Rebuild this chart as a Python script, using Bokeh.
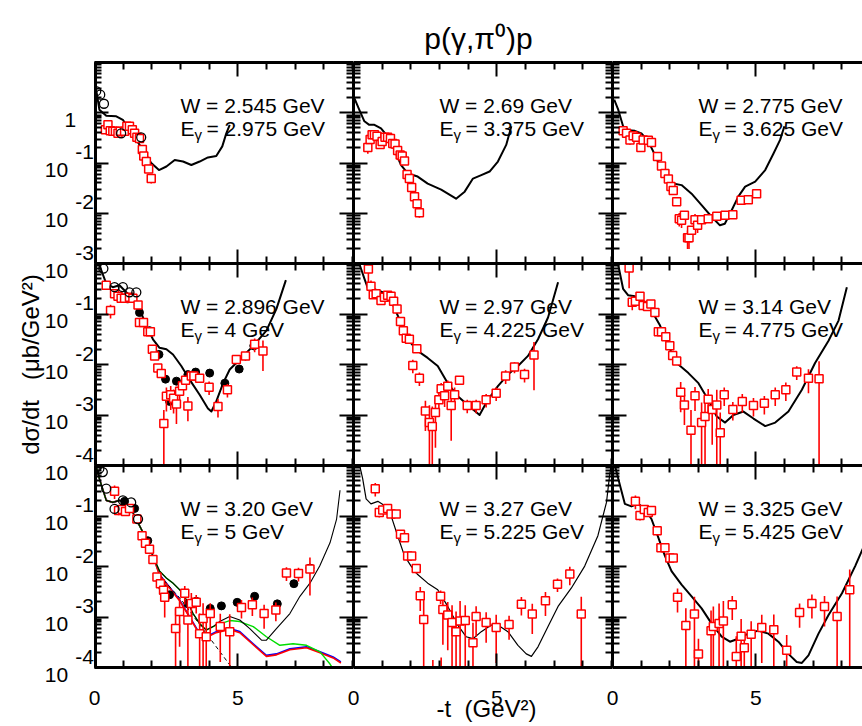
import math
import numpy as np
from bokeh.plotting import figure
from bokeh.layouts import row, column
from bokeh.models import Range1d, FixedTicker, LinearAxis, LogAxis
from bokeh.core.properties import value
from bokeh.embed import file_html
from bokeh.resources import INLINE

FONT = "Liberation Sans"

# ---------------- data ----------------
W_LABELS = ["2.545", "2.69", "2.775", "2.896", "2.97", "3.14", "3.20", "3.27", "3.325"]
EG_LABELS = ["2.975", "3.375", "3.625", "4", "4.225", "4.775", "5", "5.225", "5.425"]

# panel 1
p1_curve_t = [0.03, 0.17, 0.41, 0.76, 0.99, 1.22, 1.46, 1.69, 1.98, 2.25, 2.51, 2.80, 3.09, 3.38, 3.67, 3.96, 4.25, 4.46, 4.60, 4.72]
p1_curve_v = [3.63, 1.15, 0.871, 0.851, 0.724, 0.457, 0.288, 0.182, 0.100, 0.0724, 0.0851, 0.115, 0.107, 0.0912, 0.107, 0.129, 0.138, 0.214, 0.389, 0.575]
p1_sq_t = [0.38, 0.47, 0.55, 0.64, 0.73, 0.82, 0.90, 1.05, 1.13, 1.22, 1.32, 1.40, 1.48, 1.57, 1.67, 1.72, 1.81, 1.89, 1.98]
p1_sq_v = [0.457, 0.575, 0.437, 0.427, 0.427, 0.389, 0.427, 0.427, 0.537, 0.537, 0.457, 0.389, 0.324, 0.309, 0.186, 0.138, 0.107, 0.0759, 0.0490]
p1_sq_e = [0.15, 0.12, 0.12, 0.1, 0.1, 0.1, 0.1, 0.1, 0.1, 0.1, 0.1, 0.1, 0.1, 0.1, 0.1, 0.1, 0.1, 0.12, 0.2]
p1_oc_t = [0.06, 0.20, 0.33, 0.93, 1.63]
p1_oc_v = [2.69, 2.29, 1.51, 0.389, 0.324]

# panel 2
p2_curve_t = [0.03, 0.20, 0.38, 0.55, 0.73, 0.96, 1.19, 1.43, 1.66, 1.90, 2.24, 2.59, 3.06, 3.58, 3.88, 4.17, 4.46, 4.75, 5.04, 5.33, 5.51]
p2_curve_v = [1.95, 1.15, 0.676, 0.575, 0.575, 0.490, 0.339, 0.182, 0.0912, 0.0617, 0.0537, 0.0389, 0.0295, 0.0195, 0.0269, 0.0490, 0.0575, 0.0676, 0.107, 0.229, 0.537]
p2_sq_t = [0.50, 0.58, 0.65, 0.73, 0.82, 0.93, 1.00, 1.10, 1.19, 1.29, 1.37, 1.45, 1.54, 1.63, 1.70, 1.78, 1.87, 1.95, 2.03, 2.13, 2.22, 2.30]
p2_sq_v = [0.204, 0.295, 0.363, 0.363, 0.339, 0.234, 0.269, 0.324, 0.324, 0.309, 0.245, 0.240, 0.178, 0.145, 0.138, 0.110, 0.0589, 0.0490, 0.0324, 0.0214, 0.0155, 0.0102]
p2_sq_e = [0.25, 0.12, 0.1, 0.1, 0.1, 0.12, 0.1, 0.1, 0.1, 0.1, 0.1, 0.1, 0.1, 0.1, 0.1, 0.1, 0.1, 0.1, 0.12, 0.12, 0.15, 0.2]

# panel 3
p3_curve_t = [0.06, 0.20, 0.37, 0.55, 0.78, 1.01, 1.25, 1.48, 1.71, 1.95, 2.12, 2.41, 2.76, 3.11, 3.46, 3.75, 3.92, 4.16, 4.39, 4.63, 4.98, 5.33, 5.62, 5.85, 6.00]
p3_curve_v = [1.82, 1.15, 0.537, 0.447, 0.437, 0.389, 0.269, 0.145, 0.0724, 0.0457, 0.0389, 0.0363, 0.0245, 0.0145, 0.00851, 0.00575, 0.00617, 0.0115, 0.0214, 0.0339, 0.0427, 0.0724, 0.155, 0.288, 0.537]
p3_sq_t = [0.37, 0.49, 0.61, 0.72, 0.84, 0.99, 1.07, 1.25, 1.36, 1.57, 1.71, 1.83, 1.95, 2.04, 2.12, 2.24, 2.33, 2.41, 2.51, 2.62, 2.67, 2.76, 2.88, 2.97, 3.11, 3.34, 3.64, 3.93, 4.20, 4.49, 4.74, 5.03]
p3_sq_v = [0.437, 0.389, 0.288, 0.347, 0.324, 0.204, 0.288, 0.282, 0.257, 0.135, 0.0871, 0.0617, 0.0479, 0.0339, 0.0282, 0.0170, 0.00776, 0.00724, 0.00912, 0.00324, 0.00324, 0.00457, 0.00741, 0.00575, 0.00741, 0.00776, 0.00871, 0.00912, 0.00933, 0.0182, 0.0186, 0.0245]
p3_sq_e = [0.15, 0.2, 0.2, 0.12, 0.12, 0.12, 0.1, 0.1, 0.1, 0.1, 0.1, 0.1, 0.1, 0.1, 0.1, 0.1, 0.3, 0.3, 0.15, 0.4, 0.4, 0.2, 0.3, 0.3, 0.1, 0.1, 0.1, 0.1, 0.1, 0.12, 0.12, 0.15]

# panel 4
p4_curve_t = [0.10, 0.17, 0.41, 0.64, 0.87, 1.11, 1.34, 1.57, 1.81, 2.04, 2.27, 2.51, 2.74, 3.03, 3.32, 3.67, 3.96, 4.08, 4.25, 4.49, 4.72, 5.07, 5.54, 6.00, 6.35, 6.68]
p4_curve_v = [1.26, 0.933, 0.398, 0.339, 0.372, 0.269, 0.214, 0.126, 0.0589, 0.0316, 0.0214, 0.0200, 0.0158, 0.00933, 0.00501, 0.00251, 0.00135, 0.00117, 0.00186, 0.00427, 0.00794, 0.0126, 0.0234, 0.0468, 0.126, 0.468]
p4_oc_t = [0.31, 0.70, 0.99, 1.22, 1.46]
p4_oc_v = [0.794, 0.339, 0.339, 0.269, 0.269]
p4_fc_t = [1.17, 1.57, 1.92, 2.25, 2.48, 2.62, 2.86, 3.26, 3.53, 4.02, 4.55, 5.05, 5.56]
p4_fc_v = [0.200, 0.107, 0.0468, 0.0158, 0.00513, 0.00186, 0.00468, 0.00631, 0.00708, 0.00676, 0.00427, 0.00813, 0.0234]
p4_sq_t = [0.41, 0.56, 0.70, 0.82, 0.93, 1.05, 1.22, 1.34, 1.52, 1.57, 1.71, 1.86, 1.95, 2.02, 2.10, 2.21, 2.33, 2.42, 2.51, 2.66, 2.76, 2.86, 2.97, 3.07, 3.18, 3.26, 3.38, 3.47, 3.67, 4.00, 4.31, 4.64, 4.95, 5.27, 5.59, 5.88]
p4_sq_v = [0.372, 0.117, 0.251, 0.224, 0.204, 0.204, 0.214, 0.204, 0.151, 0.0676, 0.0676, 0.0447, 0.0447, 0.0200, 0.0148, 0.00851, 0.00661, 0.000676, 0.00234, 0.00251, 0.00214, 0.00166, 0.00295, 0.00380, 0.00490, 0.00151, 0.00589, 0.00589, 0.00537, 0.00355, 0.00148, 0.00316, 0.0126, 0.0148, 0.0251, 0.0186]
p4_sq_e = [0.2, 0.3, 0.1, 0.1, 0.1, 0.1, 0.1, 0.1, 0.1, 0.12, 0.12, 0.12, 0.12, 0.12, 0.15, 0.15, 0.15, 0.85, 0.5, 0.5, 0.5, 0.6, 0.4, 0.2, 0.2, 0.5, 0.15, 0.15, 0.15, 0.3, 0.4, 0.3, 0.2, 0.2, 0.3, 0.6]

# panel 5
p5_curve_t = [0.12, 0.20, 0.38, 0.50, 0.73, 1.02, 1.31, 1.60, 1.89, 2.24, 2.59, 2.94, 3.29, 3.64, 3.99, 4.40, 4.69, 5.04, 5.39, 5.74, 6.09, 6.44, 6.79, 7.14]
p5_curve_v = [1.5, 1.00, 0.501, 0.324, 0.309, 0.269, 0.186, 0.0794, 0.0316, 0.0186, 0.0135, 0.00933, 0.00427, 0.00234, 0.00158, 0.00100, 0.00200, 0.00372, 0.00631, 0.00933, 0.0148, 0.0316, 0.0851, 0.427]
p5_sq_t = [0.52, 0.61, 0.69, 0.79, 0.96, 1.08, 1.19, 1.31, 1.40, 1.52, 1.64, 1.74, 1.84, 1.95, 2.07, 2.21, 2.30, 2.51, 2.65, 2.75, 2.86, 2.98, 3.06, 3.18, 3.29, 3.41, 3.53, 3.70, 3.97, 4.28, 4.63, 4.98, 5.31, 5.62, 5.97, 6.30]
p5_sq_v = [0.776, 0.355, 0.240, 0.251, 0.186, 0.214, 0.234, 0.224, 0.178, 0.126, 0.0708, 0.0468, 0.0331, 0.0316, 0.00955, 0.0204, 0.00537, 0.00120, 0.000708, 0.000589, 0.00112, 0.00200, 0.00331, 0.00240, 0.00372, 0.00155, 0.00251, 0.00490, 0.00155, 0.00155, 0.00200, 0.00269, 0.00589, 0.00891, 0.00631, 0.0155]
p5_sq_e = [0.5, 0.3, 0.1, 0.1, 0.1, 0.1, 0.1, 0.1, 0.1, 0.1, 0.1, 0.1, 0.1, 0.1, 0.3, 0.1, 0.3, 0.6, 1.2, 1.5, 0.8, 0.5, 0.3, 0.4, 0.3, 0.8, 0.4, 0.2, 0.3, 0.3, 0.3, 0.3, 0.3, 0.25, 0.3, 0.8]

# panel 6
p6_curve_t = [0.12, 0.20, 0.37, 0.55, 0.78, 1.07, 1.36, 1.66, 1.95, 2.24, 2.65, 3.00, 3.34, 3.64, 3.93, 4.22, 4.57, 4.92, 5.33, 5.68, 6.14, 6.61, 7.07, 7.54, 7.89, 8.18]
p6_curve_v = [1.6, 0.933, 0.316, 0.234, 0.224, 0.186, 0.117, 0.0589, 0.0234, 0.0107, 0.00676, 0.00427, 0.00200, 0.000933, 0.000708, 0.00100, 0.00117, 0.000851, 0.000603, 0.000708, 0.00117, 0.00316, 0.0107, 0.0295, 0.0741, 0.339]
p6_sq_t = [0.58, 0.69, 0.80, 0.96, 1.07, 1.22, 1.34, 1.48, 1.60, 1.71, 1.86, 2.00, 2.10, 2.24, 2.38, 2.51, 2.74, 2.88, 3.11, 3.23, 3.34, 3.48, 3.64, 3.76, 3.90, 4.20, 4.53, 4.92, 5.30, 5.68, 6.05, 6.43, 6.84, 7.21]
p6_sq_v = [0.813, 0.170, 0.178, 0.224, 0.148, 0.141, 0.158, 0.107, 0.0447, 0.0447, 0.0355, 0.0234, 0.0151, 0.0117, 0.00282, 0.00158, 0.000501, 0.00240, 0.000708, 0.000933, 0.00204, 0.00129, 0.00158, 0.000447, 0.00251, 0.00129, 0.00186, 0.00155, 0.00170, 0.00251, 0.00316, 0.00708, 0.00537, 0.00525]
p6_sq_e = [0.6, 0.3, 0.1, 0.1, 0.1, 0.1, 0.1, 0.1, 0.1, 0.1, 0.1, 0.1, 0.1, 0.1, 0.6, 0.6, 1.5, 0.5, 1.5, 1.2, 0.6, 0.8, 1.0, 1.5, 0.4, 0.4, 0.4, 0.4, 0.4, 0.4, 0.4, 0.3, 0.5, 1.2]

# panel 7 (several model curves)
p7_black_t = [0.03, 0.17, 0.41, 0.64, 0.87, 1.11, 1.34, 1.57, 1.81, 2.04, 2.27, 2.51, 2.74, 2.97, 3.21, 3.44, 3.67, 3.90, 4.14, 4.37, 4.72, 5.07, 5.42, 5.83, 6.00, 6.35, 6.82, 7.17, 7.52, 7.86, 8.22, 8.45, 8.57]
p7_black_v = [1.10, 0.550, 0.204, 0.186, 0.204, 0.186, 0.117, 0.0646, 0.0347, 0.0162, 0.00813, 0.00589, 0.00468, 0.00347, 0.00219, 0.00117, 0.000741, 0.000550, 0.000646, 0.000813, 0.00102, 0.000871, 0.000589, 0.000347, 0.000347, 0.000589, 0.00117, 0.00257, 0.00468, 0.0102, 0.0295, 0.0871, 0.324]
p7_green_t = [0.03, 0.17, 0.41, 0.64, 0.87, 1.11, 1.34, 1.57, 1.81, 2.04, 2.27, 2.51, 2.74, 2.97, 3.21, 3.44, 3.67, 3.90, 4.25, 4.72, 5.07, 5.54, 6.00, 6.47, 6.93, 7.40, 7.87, 8.22, 8.35]
p7_green_v = [1.10, 0.550, 0.204, 0.186, 0.204, 0.186, 0.117, 0.0646, 0.0347, 0.0162, 0.00813, 0.00589, 0.00468, 0.00347, 0.00219, 0.00117, 0.000741, 0.000550, 0.000692, 0.000851, 0.000813, 0.000646, 0.000407, 0.000275, 0.000295, 0.000275, 0.000204, 0.000117, 0.0000900]
p7_blue_t = [0.00, 0.04, 0.17, 0.41, 0.64, 0.87, 1.11, 1.34, 1.57, 1.81, 2.04, 2.27, 2.51, 2.97, 3.32, 3.67, 3.90, 4.25, 4.72, 5.07, 5.54, 6.00, 6.35, 6.82, 7.40, 7.87, 8.33, 8.60]
p7_blue_v = [0.004, 1.0, 0.550, 0.204, 0.186, 0.204, 0.186, 0.117, 0.0646, 0.0347, 0.0162, 0.00692, 0.00468, 0.00219, 0.00102, 0.000468, 0.000407, 0.000513, 0.000589, 0.000513, 0.000295, 0.000174, 0.000186, 0.000234, 0.000257, 0.000204, 0.000162, 0.000129]
p7_red_t = [0.00, 0.04, 0.17, 0.41, 0.64, 0.87, 1.11, 1.34, 1.57, 1.81, 2.04, 2.27, 2.51, 2.97, 3.32, 3.67, 3.90, 4.25, 4.72, 5.07, 5.54, 6.00, 6.35, 6.82, 7.40, 7.87, 8.33, 8.60]
p7_red_v = [0.035, 1.0, 0.550, 0.204, 0.186, 0.204, 0.186, 0.117, 0.0646, 0.0347, 0.0162, 0.00670, 0.00450, 0.00210, 0.000980, 0.000450, 0.000390, 0.000490, 0.000565, 0.000490, 0.000282, 0.000166, 0.000178, 0.000224, 0.000246, 0.000195, 0.000155, 0.000123]
p7_dash_t = [2.27, 2.51, 3.03, 3.67, 4.25, 4.75]
p7_dash_v = [0.00692, 0.00468, 0.00219, 0.000708, 0.000257, 0.000107]
p7_oc_t = [0.08, 0.17, 0.29, 0.41, 0.70, 0.99, 1.28, 1.52]
p7_oc_v = [0.933, 0.871, 0.741, 0.347, 0.138, 0.204, 0.186, 0.0871]
p7_fc_t = [1.05, 1.40, 1.86, 2.39, 2.62, 3.26, 3.55, 4.04, 4.43, 4.98, 5.59, 6.38, 6.96, 7.52]
p7_fc_v = [0.195, 0.141, 0.0324, 0.00372, 0.00275, 0.00182, 0.00204, 0.00148, 0.00166, 0.00195, 0.00257, 0.00182, 0.00457, 0.00933]
p7_sq_t = [0.70, 0.84, 0.97, 1.08, 1.22, 1.48, 1.66, 1.78, 1.92, 2.04, 2.18, 2.30, 2.41, 2.45, 2.83, 2.97, 3.15, 3.26, 3.38, 3.55, 3.67, 3.79, 3.90, 4.04, 4.39, 4.72, 5.13, 5.51, 5.92, 6.33, 6.70, 7.12, 7.52]
p7_sq_v = [0.309, 0.129, 0.135, 0.123, 0.141, 0.0871, 0.0407, 0.0288, 0.0219, 0.0138, 0.00617, 0.00457, 0.00339, 0.00245, 0.000589, 0.00129, 0.00295, 0.000871, 0.00186, 0.00195, 0.000468, 0.000933, 0.000407, 0.00117, 0.000646, 0.000513, 0.00155, 0.00174, 0.00117, 0.00138, 0.00741, 0.00724, 0.00891]
p7_sq_e = [0.3, 0.2, 0.15, 0.15, 0.1, 0.1, 0.1, 0.1, 0.1, 0.1, 0.15, 0.2, 0.2, 0.6, 1.5, 0.8, 0.4, 1.2, 0.6, 0.4, 1.5, 1.0, 1.5, 0.6, 0.8, 1.2, 0.4, 0.4, 0.5, 0.4, 0.3, 0.3, 0.7]

# panel 8
p8_curve_t = [0.12, 0.20, 0.32, 0.44, 0.61, 0.85, 1.08, 1.31, 1.54, 1.78, 2.01, 2.24, 2.59, 2.94, 3.29, 3.64, 3.93, 4.17, 4.46, 4.81, 5.04, 5.39, 5.74, 6.03, 6.21, 6.44, 6.79, 7.14, 7.60, 8.07, 8.53, 8.83, 8.94, 9.04]
p8_curve_v = [1.6, 1.10, 0.550, 0.219, 0.174, 0.195, 0.162, 0.102, 0.0407, 0.0162, 0.0102, 0.00692, 0.00468, 0.00347, 0.00162, 0.000692, 0.000407, 0.000372, 0.000513, 0.000692, 0.000692, 0.000513, 0.000275, 0.000186, 0.000166, 0.000257, 0.000646, 0.00162, 0.00372, 0.0102, 0.0407, 0.186, 0.646, 1.5]
p8_sq_t = [0.76, 0.90, 1.02, 1.19, 1.31, 1.49, 1.64, 1.78, 1.89, 2.03, 2.19, 2.33, 2.45, 2.77, 3.04, 3.06, 3.12, 3.29, 3.44, 3.58, 3.72, 3.90, 4.17, 4.28, 4.63, 4.98, 5.43, 5.86, 6.24, 6.70, 7.12, 7.55, 7.95]
p8_sq_v = [0.347, 0.117, 0.132, 0.141, 0.110, 0.110, 0.0437, 0.0372, 0.0162, 0.0162, 0.00912, 0.00263, 0.000891, 0.000040, 0.00257, 0.000045, 0.00141, 0.00110, 0.000776, 0.000513, 0.000832, 0.000851, 0.000309, 0.00102, 0.000776, 0.000617, 0.000708, 0.00178, 0.00115, 0.00209, 0.00447, 0.00708, 0.00115]
p8_sq_e = [0.3, 0.2, 0.1, 0.1, 0.1, 0.1, 0.1, 0.1, 0.1, 0.1, 0.2, 0.5, 1.5, 2.5, 0.3, 2.5, 0.8, 0.8, 1.2, 1.5, 1.5, 1.0, 1.5, 0.6, 0.6, 0.8, 0.5, 0.4, 0.6, 0.5, 0.3, 0.4, 1.2]

# panel 9
p9_curve_t = [0.04, 0.08, 0.26, 0.43, 0.66, 0.90, 1.13, 1.36, 1.60, 1.83, 2.06, 2.41, 2.76, 3.11, 3.46, 3.81, 4.10, 4.39, 4.74, 5.09, 5.44, 5.79, 6.14, 6.43, 6.61, 6.84, 7.19, 7.54, 8.01, 8.47, 8.78]
p9_curve_v = [1.5, 1.02, 0.407, 0.174, 0.155, 0.174, 0.138, 0.0871, 0.0372, 0.0162, 0.00813, 0.00437, 0.00257, 0.00148, 0.000741, 0.000407, 0.000324, 0.000372, 0.000468, 0.000537, 0.000468, 0.000324, 0.000186, 0.000129, 0.000123, 0.000174, 0.000468, 0.00110, 0.00295, 0.0102, 0.0257]
p9_sq_t = [0.80, 0.96, 1.11, 1.25, 1.36, 1.56, 1.69, 1.83, 2.00, 2.12, 2.27, 2.56, 2.86, 3.00, 3.44, 3.52, 3.72, 3.87, 4.18, 4.32, 4.49, 4.60, 4.84, 5.21, 5.63, 6.08, 6.53, 6.96, 7.40, 7.84, 8.28]
p9_sq_v = [0.195, 0.102, 0.135, 0.117, 0.129, 0.0513, 0.0234, 0.0234, 0.0148, 0.0148, 0.00245, 0.000676, 0.00115, 0.000186, 0.000537, 0.000646, 0.000741, 0.000832, 0.00174, 0.000166, 0.000417, 0.000245, 0.000457, 0.000617, 0.000562, 0.000219, 0.00123, 0.00186, 0.00162, 0.00102, 0.00347]
p9_sq_e = [0.3, 0.2, 0.1, 0.1, 0.1, 0.1, 0.1, 0.1, 0.1, 0.1, 0.5, 1.2, 1.2, 1.0, 1.5, 1.5, 1.5, 1.5, 0.5, 1.5, 1.2, 1.0, 0.8, 0.8, 1.0, 1.0, 0.5, 0.5, 0.6, 1.5, 1.5]

PANELS = [
    dict(curves=[(p1_curve_t, p1_curve_v, "black", 2.0, "solid")], sq=(p1_sq_t, p1_sq_v, p1_sq_e), oc=(p1_oc_t, p1_oc_v), fc=None),
    dict(curves=[(p2_curve_t, p2_curve_v, "black", 2.0, "solid")], sq=(p2_sq_t, p2_sq_v, p2_sq_e), oc=None, fc=None),
    dict(curves=[(p3_curve_t, p3_curve_v, "black", 2.0, "solid")], sq=(p3_sq_t, p3_sq_v, p3_sq_e), oc=None, fc=None),
    dict(curves=[(p4_curve_t, p4_curve_v, "black", 2.0, "solid")], sq=(p4_sq_t, p4_sq_v, p4_sq_e), oc=(p4_oc_t, p4_oc_v), fc=(p4_fc_t, p4_fc_v)),
    dict(curves=[(p5_curve_t, p5_curve_v, "black", 2.0, "solid")], sq=(p5_sq_t, p5_sq_v, p5_sq_e), oc=None, fc=None),
    dict(curves=[(p6_curve_t, p6_curve_v, "black", 2.0, "solid")], sq=(p6_sq_t, p6_sq_v, p6_sq_e), oc=None, fc=None),
    dict(curves=[(p7_blue_t, p7_blue_v, "#0000ff", 1.6, "solid"),
                 (p7_red_t, p7_red_v, "#ff0000", 1.6, "solid"),
                 (p7_dash_t, p7_dash_v, "black", 1.0, "4 3"),
                 (p7_green_t, p7_green_v, "#00dd00", 1.4, "solid"),
                 (p7_black_t, p7_black_v, "black", 1.1, "solid")],
         sq=(p7_sq_t, p7_sq_v, p7_sq_e), oc=(p7_oc_t, p7_oc_v), fc=(p7_fc_t, p7_fc_v)),
    dict(curves=[(p8_curve_t, p8_curve_v, "black", 1.2, "solid")], sq=(p8_sq_t, p8_sq_v, p8_sq_e), oc=None, fc=None),
    dict(curves=[(p9_curve_t, p9_curve_v, "black", 2.0, "solid")], sq=(p9_sq_t, p9_sq_v, p9_sq_e), oc=None, fc=None),
]

# ---------------- layout geometry (screen pixels; the page template has no margin) ----------------
COL_W = [259, 259, 250]
ROW_H = [201, 202, 202]
ROW_TOP = [1, 0, 0]
ROW_BOT = [-3, -4, -4]
UNIT = 259 / 9.04
LEFT_W = 94
TOP_H = 60                  # title strip, row-1 frame starts 2 px lower (y = 62)
MB_LAST = 18                # white strip under the last row of panels
MID_H = 2 + 201 + 202 + 202 + MB_LAST
BOT_H = 37
PAGE_W = LEFT_W + sum(COL_W)
COL_X0 = [94, 353, 612]     # x of each column's frame
ROW_Y0 = [62, 263, 465]     # y of each row's frame


def style_axis(ax, lw=3):
    ax.axis_line_width = lw
    ax.axis_line_color = "black"
    ax.major_tick_in = 14
    ax.major_tick_out = 0
    ax.minor_tick_in = 7
    ax.minor_tick_out = 0
    ax.major_tick_line_width = 2
    ax.minor_tick_line_width = 2
    ax.major_label_text_font_size = "0px"
    ax.major_label_text_color = None
    ax.major_label_standoff = 0
    ax.axis_label = None


def make_panel(r, c, pd, idx):
    top, bot = ROW_TOP[r], ROW_BOT[r]
    mt = 2 if r == 0 else 0
    mb = MB_LAST if r == 2 else 0
    p = figure(width=COL_W[c], height=ROW_H[r] + mt + mb,
               x_range=Range1d(0, COL_W[c] / UNIT), y_range=Range1d(10.0 ** bot, 10.0 ** top),
               y_axis_type="log", x_axis_location=None, y_axis_location=None,
               output_backend="svg", toolbar_location=None,
               min_border=0, min_border_left=0, min_border_right=0,
               min_border_top=mt, min_border_bottom=mb,
               outline_line_color=None, background_fill_color="white", border_fill_color="white")
    p.xgrid.visible = False
    p.ygrid.visible = False
    yt = FixedTicker(ticks=[10.0 ** k for k in range(bot, top + 1)],
                     minor_ticks=[m * 10.0 ** k for k in range(bot, top) for m in range(2, 10)])
    xt = FixedTicker(ticks=[0, 5], minor_ticks=[1, 2, 3, 4, 6, 7, 8, 9])
    sides = [("left", LogAxis, yt, 5 if c == 0 else 3), ("above", LinearAxis, xt, 3),
             ("below", LinearAxis, xt, 3)]
    if c < 2:
        sides.append(("right", LogAxis, yt, 3))
    for side, cls, tk, lw in sides:
        ax = cls(ticker=tk)
        style_axis(ax, lw)
        p.add_layout(ax, side)

    for ct, cv, col, lw, dash in pd["curves"]:
        p.line(ct, cv, line_color=col, line_width=lw, line_dash=dash, line_join="round")
    if pd["fc"] is not None:
        p.scatter(pd["fc"][0], pd["fc"][1], marker="circle", size=8, fill_color="black", line_color="black")
    st, sv, se = pd["sq"]
    sv_a = np.array(sv)
    se_a = np.array(se)
    lo = sv_a * (1 - se_a)
    lo = np.where(lo > 0, lo, 1e-9)
    hi = sv_a * (1 + se_a)
    p.segment(x0=st, y0=lo, x1=st, y1=hi, line_color="#ff0000", line_width=1.6)
    p.scatter(st, sv, marker="square", size=8, line_color="#ff0000", fill_color="white", line_width=1.5)
    if pd["oc"] is not None:
        p.scatter(pd["oc"][0], pd["oc"][1], marker="circle", size=9, line_color="black",
                  fill_color=None, line_width=1.3)

    # panel annotation
    D = ROW_H[r] / 4
    tx = dict(text_font=value(FONT), text_color="black", text_baseline="alphabetic", text_align="left")
    p.text(x=[3.0], y=[10 ** (top - 43 / D)], text=["W = %s GeV" % W_LABELS[idx]],
           text_font_size=value("21px"), **tx)
    p.text(x=[3.0], y=[10 ** (top - 65.5 / D)], text=["E"], text_font_size=value("21px"), **tx)
    p.text(x=[3.0], y=[10 ** (top - 71.5 / D)], text=["\u03b3"], x_offset=14,
           text_font_size=value("15px"), **tx)
    p.text(x=[3.0], y=[10 ** (top - 65.5 / D)], text=["= %s GeV" % EG_LABELS[idx]], x_offset=26,
           text_font_size=value("21px"), **tx)
    return p


def build_texts():
    """All outside-the-frame texts, in screen pixels: (x, y, text, size, align, baseline, angle)."""
    items = []
    items.append((478, 38, "p(\u03b3,\u03c0\u2070)p", "30px", "center", "alphabetic", 0.0))
    items.append((30, 364, "d\u03c3/dt\u00a0\u00a0\u00a0(\u03bcb/GeV\u00b2)", "24px", "center", "middle", math.pi / 2))
    for r in range(3):
        D = ROW_H[r] / 4
        for k in range(ROW_BOT[r], ROW_TOP[r]):
            yk = ROW_Y0[r] + (ROW_TOP[r] - k) * D
            if k == 0:
                items.append((75.7, yk + 7, "1", "21px", "right", "alphabetic", 0.0))
            else:
                items.append((67.6, yk + 7, "10", "21px", "right", "alphabetic", 0.0))
                items.append((74.8, yk - 11, str(k), "21px", "left", "alphabetic", 0.0))
    for c in range(3):
        for tv, lab in [(0, "0"), (5, "5")]:
            items.append((COL_X0[c] + tv * UNIT, 697, lab, "21px", "center", "alphabetic", 0.0))
    items.append((486, 708, "-t\u00a0\u00a0(GeV\u00b2)", "24px", "center", "alphabetic", 0.0))
    return items


TEXTS = build_texts()


def label_fig(x0, x1, y0, y1):
    f = figure(width=x1 - x0, height=y1 - y0, x_range=Range1d(x0, x1), y_range=Range1d(y1, y0),
               x_axis_location=None, y_axis_location=None, output_backend="svg",
               toolbar_location=None, min_border=0, min_border_left=0, min_border_right=0,
               min_border_top=0, min_border_bottom=0, outline_line_color=None,
               background_fill_color="white", border_fill_color="white")
    f.xgrid.visible = False
    f.ygrid.visible = False
    for (x, y, t, size, align, base, ang) in TEXTS:
        if x0 <= x <= x1 and y0 <= y <= y1:
            f.text(x=[x], y=[y], text=[t], angle=ang, text_font=value(FONT), text_color="black",
                   text_font_size=value(size), text_align=align, text_baseline=base)
    return f


top_fig = label_fig(0, PAGE_W, 0, TOP_H)
left_fig = label_fig(0, LEFT_W, TOP_H, TOP_H + MID_H)
bot_fig = label_fig(0, PAGE_W, TOP_H + MID_H, TOP_H + MID_H + BOT_H)

rows = []
for r in range(3):
    rows.append(row([make_panel(r, c, PANELS[3 * r + c], 3 * r + c) for c in range(3)], spacing=0))
grid = column(rows, spacing=0)
layout = column([top_fig, row([left_fig, grid], spacing=0), bot_fig], spacing=0)

open("out.html", "w").write(file_html(layout, INLINE))
